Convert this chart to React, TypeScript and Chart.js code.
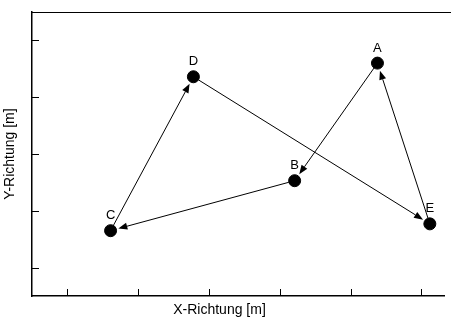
import React, { useEffect, useRef } from "react";
import { Chart, registerables } from "chart.js";

Chart.register(...registerables);

// Station names and their positions
const pointNames = ["A", "B", "C", "D", "E"];
const xValues = [4.88, 3.71, 1.11, 2.28, 5.62];
const yValues = [4.1, 2.03, 1.15, 3.86, 1.27];

// Route between stations (indices into pointNames): A→B→C→D→E→A
const routeFrom = [0, 1, 2, 3, 4];
const routeTo = [1, 2, 3, 4, 0];

// Tick mark positions (no tick labels are shown)
const xTickValues = [0.5, 1.5, 2.5, 3.5, 4.5, 5.5];
const yTickValues = [0.5, 1.5, 2.5, 3.5, 4.5];

const xTitle = "X-Richtung [m]";
const yTitle = "Y-Richtung [m]";

const FONT = '"Liberation Sans", Arial, sans-serif';
const POINT_RADIUS = 6;

const decorPlugin = {
  id: "routeDecor",
  beforeDatasetsDraw(chart: any) {
    const { ctx, chartArea, scales } = chart;
    const xs = scales.x;
    const ys = scales.y;
    ctx.save();
    ctx.strokeStyle = "#000";
    ctx.fillStyle = "#000";
    ctx.lineWidth = 1;

    // top frame line
    ctx.beginPath();
    ctx.moveTo(chartArea.left, chartArea.top + 0.5);
    ctx.lineTo(chart.width, chartArea.top + 0.5);
    ctx.stroke();

    // inward tick marks
    ctx.beginPath();
    xTickValues.forEach((v) => {
      const px = Math.round(xs.getPixelForValue(v)) + 0.5;
      ctx.moveTo(px, chartArea.bottom);
      ctx.lineTo(px, chartArea.bottom - 7);
    });
    yTickValues.forEach((v) => {
      const py = Math.round(ys.getPixelForValue(v)) + 0.5;
      ctx.moveTo(chartArea.left, py);
      ctx.lineTo(chartArea.left + 7, py);
    });
    ctx.stroke();

    // arrows between stations
    routeFrom.forEach((fromIdx, i) => {
      const toIdx = routeTo[i];
      const x1 = xs.getPixelForValue(xValues[fromIdx]);
      const y1 = ys.getPixelForValue(yValues[fromIdx]);
      const x2 = xs.getPixelForValue(xValues[toIdx]);
      const y2 = ys.getPixelForValue(yValues[toIdx]);
      const dx = x2 - x1;
      const dy = y2 - y1;
      const len = Math.hypot(dx, dy);
      const ux = dx / len;
      const uy = dy / len;
      const sx = x1 + ux * POINT_RADIUS;
      const sy = y1 + uy * POINT_RADIUS;
      const ex = x2 - ux * (POINT_RADIUS + 2);
      const ey = y2 - uy * (POINT_RADIUS + 2);
      const headLen = 9;
      const headHalf = 3.5;
      const bx = ex - ux * headLen;
      const by = ey - uy * headLen;
      ctx.beginPath();
      ctx.moveTo(sx, sy);
      ctx.lineTo(bx, by);
      ctx.stroke();
      ctx.beginPath();
      ctx.moveTo(ex, ey);
      ctx.lineTo(bx - uy * headHalf, by + ux * headHalf);
      ctx.lineTo(bx + uy * headHalf, by - ux * headHalf);
      ctx.closePath();
      ctx.fill();
    });
    ctx.restore();
  },
  afterDraw(chart: any) {
    const { ctx, chartArea, scales } = chart;
    const xs = scales.x;
    const ys = scales.y;
    ctx.save();
    ctx.fillStyle = "#000";

    // station labels above the dots
    ctx.font = `13px ${FONT}`;
    ctx.textAlign = "center";
    ctx.textBaseline = "alphabetic";
    pointNames.forEach((name, i) => {
      const px = xs.getPixelForValue(xValues[i]);
      const py = ys.getPixelForValue(yValues[i]);
      ctx.fillText(name, px, py - 11.5);
    });

    // axis titles
    ctx.font = `14px ${FONT}`;
    ctx.textBaseline = "middle";
    ctx.fillText(xTitle, 219.5, 310.5);
    ctx.save();
    ctx.translate(10.5, (chartArea.top + chartArea.bottom) / 2);
    ctx.rotate(-Math.PI / 2);
    ctx.fillText(yTitle, 0, 0);
    ctx.restore();
    ctx.restore();
  },
};

export default function App() {
  const canvasRef = useRef<HTMLCanvasElement | null>(null);

  useEffect(() => {
    if (!canvasRef.current) return;
    const chart = new Chart(canvasRef.current, {
      type: "scatter",
      data: {
        datasets: [
          {
            label: "Stationen",
            data: xValues.map((x, i) => ({ x, y: yValues[i] })),
            backgroundColor: "#000",
            borderColor: "#000",
            pointRadius: POINT_RADIUS,
            pointHoverRadius: POINT_RADIUS,
          },
        ],
      },
      options: {
        responsive: true,
        maintainAspectRatio: false,
        animation: false,
        layout: { padding: { left: 32, top: 12, right: 0, bottom: 24 } },
        plugins: {
          legend: { display: false },
          tooltip: { enabled: false },
        },
        scales: {
          x: {
            type: "linear",
            min: 0,
            max: 5.82,
            grid: { display: false, drawTicks: false },
            ticks: { display: false },
            border: { display: true, color: "#000", width: 1.5 },
          },
          y: {
            type: "linear",
            min: 0,
            max: 5,
            grid: { display: false, drawTicks: false },
            ticks: { display: false },
            border: { display: true, color: "#000", width: 1.5 },
          },
        },
      },
      plugins: [decorPlugin],
    });
    return () => chart.destroy();
  }, []);

  return (
    <div style={{ position: "absolute", left: 0, top: 0, width: 451, height: 320, background: "#fff" }}>
      <canvas ref={canvasRef} />
    </div>
  );
}
